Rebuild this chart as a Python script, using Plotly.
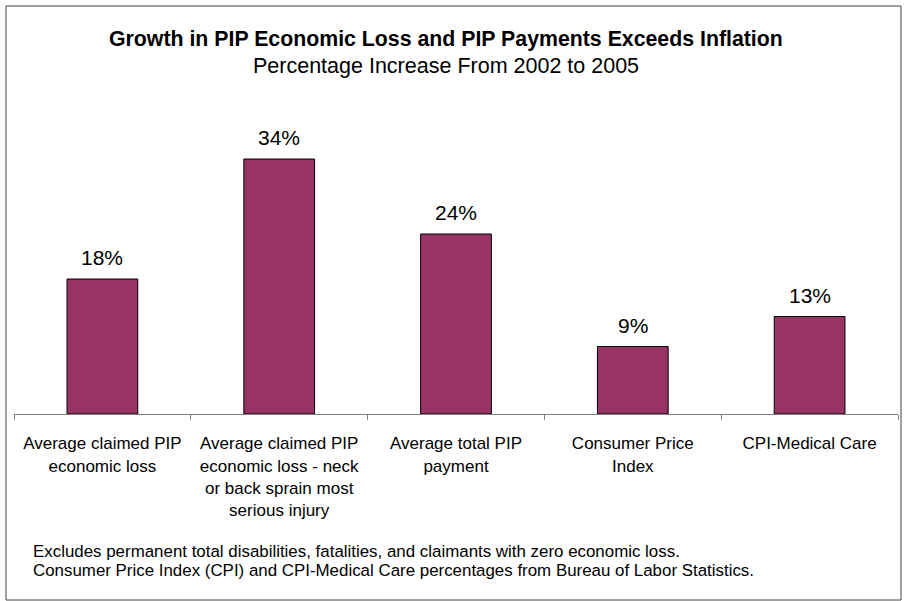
import plotly.graph_objects as go

categories = [
    "Average claimed PIP<br>economic loss",
    "Average claimed PIP<br>economic loss - neck<br>or back sprain most<br>serious injury",
    "Average total PIP<br>payment",
    "Consumer Price<br>Index",
    "CPI-Medical Care",
]
values = [18, 34, 24, 9, 13]
labels = ["18%", "34%", "24%", "9%", "13%"]

title = "<b>Growth in PIP Economic Loss and PIP Payments Exceeds Inflation</b>"
subtitle = "Percentage Increase From 2002 to 2005"
footnotes = [
    "Excludes permanent total disabilities, fatalities, and claimants with zero economic loss.",
    "Consumer Price Index (CPI) and CPI-Medical Care percentages from Bureau of Labor Statistics.",
]

FONT = "Liberation Sans, Arial, sans-serif"
W, H = 904, 601
L, R, T, B = 14, 6, 114, 187
pw, ph = W - L - R, H - T - B

def px(x):
    return (x - L) / pw

def py(y):
    return (H - B - y) / ph

fig = go.Figure()
fig.add_trace(go.Bar(
    x=categories, y=values, width=0.4,
    marker=dict(color="#993366", line=dict(color="#000000", width=1)),
    hoverinfo="skip",
))

for c, v, t in zip(categories, values, labels):
    fig.add_annotation(x=c, y=v, text=t, showarrow=False, yanchor="bottom",
                       yshift=8, font=dict(family=FONT, size=21, color="black"))

fig.add_annotation(xref="paper", yref="paper", x=px(446), y=py(39), text=title,
                   showarrow=False, xanchor="center", yanchor="middle",
                   font=dict(family=FONT, size=21.3, color="black"))
fig.add_annotation(xref="paper", yref="paper", x=px(446), y=py(66), text=subtitle,
                   showarrow=False, xanchor="center", yanchor="middle",
                   font=dict(family=FONT, size=21.5, color="black"))
for i, line in enumerate(footnotes):
    fig.add_annotation(xref="paper", yref="paper", x=px(31), y=py(551 + 19 * i), text=line,
                       showarrow=False, xanchor="left", yanchor="middle", align="left",
                       font=dict(family=FONT, size=16.9, color="black"))

fig.add_shape(type="rect", xref="paper", yref="paper",
              x0=px(6), x1=px(901), y0=py(600), y1=py(6),
              line=dict(color="#404040", width=1), fillcolor="rgba(0,0,0,0)")

fig.update_layout(
    width=W, height=H,
    margin=dict(l=L, r=R, t=T, b=B, pad=0),
    paper_bgcolor="white", plot_bgcolor="white",
    showlegend=False,
    font=dict(family=FONT, color="black"),
    xaxis=dict(
        showline=True, linecolor="#808080", linewidth=1,
        ticks="outside", tickson="boundaries", ticklen=5, tickcolor="#808080",
        tickfont=dict(family=FONT, size=17, color="black"),
        showgrid=False, zeroline=False, fixedrange=True,
        ticklabelstandoff=14,
    ),
    yaxis=dict(visible=False, range=[0, 40], fixedrange=True),
)

fig.write_html("out.html", config={"displayModeBar": False},
               post_script="document.body.style.margin='0px';document.body.style.overflow='hidden';")
